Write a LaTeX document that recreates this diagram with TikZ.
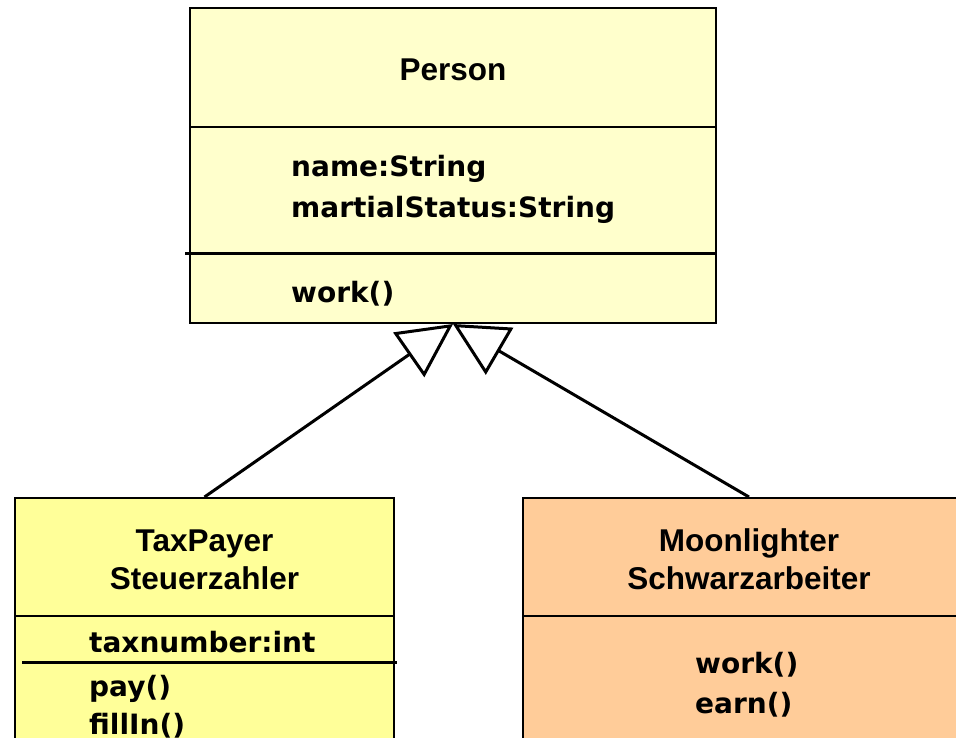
\documentclass[tikz,border=0pt]{standalone}
\usepackage{fontspec}
\setmainfont{Liberation Sans}
\newfontfamily\membfont{DejaVu Sans}
\usetikzlibrary{arrows.meta}
\definecolor{personfill}{HTML}{FFFFCC}
\definecolor{taxfill}{HTML}{FFFF99}
\definecolor{moonfill}{HTML}{FFCC99}
\begin{document}
\begin{tikzpicture}[x=1pt,y=-1pt,
    box/.style={draw,line width=2pt,inner sep=0pt},
    head/.style={font=\fontsize{31.5}{38}\selectfont\bfseries,inner sep=0pt,anchor=base},
    memb/.style={font=\membfont\fontsize{28}{34}\selectfont\bfseries,inner sep=0pt,anchor=base west},
    sep/.style={line width=2pt},
    thicksep/.style={line width=3pt},
    inherit/.style={line width=3pt,-{Triangle[open,length=54pt,width=54pt]}}]
      \useasboundingbox (0,0) rectangle (956,738);
      \clip (0,0) rectangle (956,738);
      \node[box,fill=personfill,minimum width=526pt,minimum height=315pt] (person) at (453,165.5) {};
      \node[box,fill=taxfill,minimum width=379pt,minimum height=262pt] (taxpayer) at (204.5,629) {};
      \node[box,fill=moonfill,minimum width=452pt,minimum height=262pt] (moonlighter) at (749,629) {};
      \draw[sep] (person.west |- 0,127) -- (person.east |- 0,127);
      \draw[thicksep] (185,254) -- (person.east |- 0,254);
      \draw[sep] (taxpayer.west |- 0,616) -- (taxpayer.east |- 0,616);
      \draw[thicksep] (22,662) -- (397,662);
      \draw[sep] (moonlighter.west |- 0,616) -- (moonlighter.east |- 0,616);
      \node[head] (personname) at (453,81) {Person};
      \node[memb] (name) at (291,177) {name:String};
      \node[memb] (status) at (291,218) {martialStatus:String};
      \node[memb] (pwork) at (291,302) {work()};
      \node[head] (taxname) at (204.5,551) {TaxPayer};
      \node[head] (taxname2) at (204.5,589) {Steuerzahler};
      \node[memb] (taxnr) at (89,652) {taxnumber:int};
      \node[memb] (pay) at (89,696) {pay()};
      \node[memb] (fillin) at (89,734) {fillIn()};
      \node[head] (moonname) at (749,551) {Moonlighter};
      \node[head] (moonname2) at (749,589) {Schwarzarbeiter};
      \node[memb] (mwork) at (695,673) {work()};
      \node[memb] (earn) at (695,713) {earn()};
      \draw[inherit] (taxpayer.north) -- (person.south);
      \draw[inherit] (moonlighter.north) -- (person.south);
  \end{tikzpicture}
\end{document}
